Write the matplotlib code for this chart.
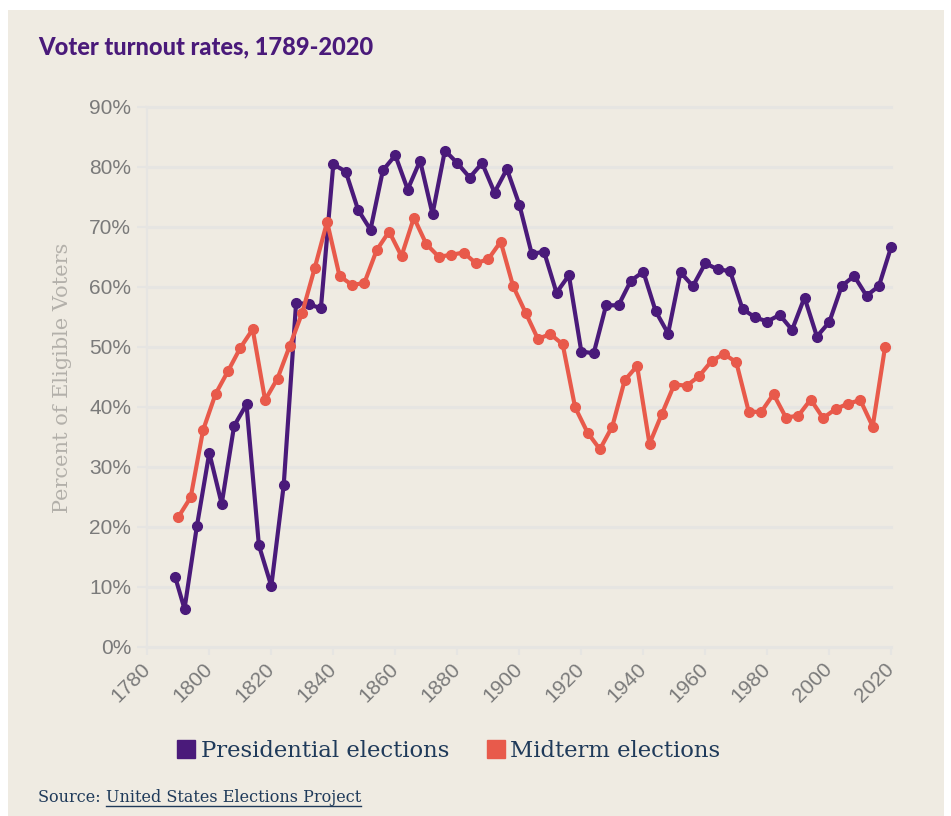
import matplotlib
matplotlib.use("Agg")
import matplotlib.pyplot as plt
from matplotlib.patches import Rectangle
from matplotlib.lines import Line2D

# ---- data ----
pres_years = [1789, 1792, 1796, 1800, 1804, 1808, 1812, 1816, 1820, 1824, 1828, 1832, 1836,
              1840, 1844, 1848, 1852, 1856, 1860, 1864, 1868, 1872, 1876, 1880, 1884, 1888,
              1892, 1896, 1900, 1904, 1908, 1912, 1916, 1920, 1924, 1928, 1932, 1936, 1940,
              1944, 1948, 1952, 1956, 1960, 1964, 1968, 1972, 1976, 1980, 1984, 1988, 1992,
              1996, 2000, 2004, 2008, 2012, 2016, 2020]
pres_vals = [11.6, 6.3, 20.1, 32.3, 23.8, 36.8, 40.4, 16.9, 10.1, 26.9, 57.3, 57.1, 56.4,
             80.4, 79.2, 72.8, 69.5, 79.4, 81.9, 76.2, 81.0, 72.1, 82.7, 80.6, 78.2, 80.6,
             75.7, 79.6, 73.7, 65.5, 65.8, 59.0, 61.9, 49.2, 48.9, 56.9, 56.9, 61.0, 62.5,
             55.9, 52.2, 62.4, 60.1, 63.9, 62.9, 62.6, 56.3, 54.9, 54.2, 55.3, 52.8, 58.2,
             51.7, 54.1, 60.1, 61.8, 58.5, 60.1, 66.7]

mid_years = [1790, 1794, 1798, 1802, 1806, 1810, 1814, 1818, 1822, 1826, 1830, 1834, 1838,
             1842, 1846, 1850, 1854, 1858, 1862, 1866, 1870, 1874, 1878, 1882, 1886, 1890,
             1894, 1898, 1902, 1906, 1910, 1914, 1918, 1922, 1926, 1930, 1934, 1938, 1942,
             1946, 1950, 1954, 1958, 1962, 1966, 1970, 1974, 1978, 1982, 1986, 1990, 1994,
             1998, 2002, 2006, 2010, 2014, 2018]
mid_vals = [21.6, 24.9, 36.1, 42.1, 45.9, 49.8, 52.9, 41.1, 44.7, 50.2, 55.7, 63.1, 70.8,
            61.8, 60.3, 60.6, 66.1, 69.2, 65.1, 71.5, 67.1, 65.0, 65.3, 65.7, 63.9, 64.6,
            67.5, 60.1, 55.7, 51.3, 52.1, 50.4, 39.9, 35.7, 32.9, 36.7, 44.4, 46.8, 33.8,
            38.8, 43.7, 43.5, 45.1, 47.6, 48.8, 47.4, 39.2, 39.1, 42.1, 38.2, 38.5, 41.2,
            38.1, 39.6, 40.5, 41.1, 36.7, 50.0]

x_ticks = [1780, 1800, 1820, 1840, 1860, 1880, 1900, 1920, 1940, 1960, 1980, 2000, 2020]
y_ticks = [0, 10, 20, 30, 40, 50, 60, 70, 80, 90]

title = "Voter turnout rates, 1789-2020"
ylabel = "Percent of Eligible Voters"
series_names = ["Presidential elections", "Midterm elections"]
source_prefix = "Source: "
source_link = "United States Elections Project"

# ---- style ----
PURPLE = "#4a1a7a"
RED = "#e85a4b"
BG = "#efebe2"
GRID = "#e6e5e2"
TICKC = "#7a7a7a"
NAVY = "#1f3a5a"

W, H = 951, 816
fig = plt.figure(figsize=(W / 100, H / 100), dpi=100)
fig.patch.set_facecolor("white")
fig.patches.append(Rectangle((8 / W, 0), (944 - 8) / W, (H - 10) / H,
                             transform=fig.transFigure, facecolor=BG,
                             edgecolor="none", zorder=-10))

left, right = 147.3, 891.3
top, bottom = 106.7, 646.7
ax = fig.add_axes([left / W, 1 - bottom / H, (right - left) / W, (bottom - top) / H])
ax.set_facecolor("none")
ax.set_xlim(1780, 2020)
ax.set_ylim(0, 90)

for s in ["top", "right", "bottom"]:
    ax.spines[s].set_visible(False)
ax.spines["left"].set_color(GRID)
ax.spines["left"].set_linewidth(1.5)

ax.set_yticks(y_ticks)
ax.set_yticklabels([f"{v}%" for v in y_ticks])
ax.set_xticks(x_ticks)
ax.set_xticklabels([str(v) for v in x_ticks])
ax.yaxis.grid(True, color=GRID, lw=2.2, clip_on=False)
ax.set_axisbelow(True)

ax.tick_params(axis="y", length=7.2, width=1.5, color=GRID, pad=4.5,
               labelsize=15, labelcolor=TICKC)
ax.tick_params(axis="x", length=6, width=1.5, color=GRID, pad=8,
               labelsize=15, labelcolor=TICKC)
for lab in ax.get_yticklabels() + ax.get_xticklabels():
    lab.set_fontfamily(["Liberation Sans", "DejaVu Sans"])
for lab in ax.get_xticklabels():
    lab.set_rotation(45)
    lab.set_rotation_mode("anchor")
    lab.set_ha("right")
    lab.set_va("center")

ax.plot(pres_years, pres_vals, color=PURPLE, lw=3.0, marker="o", ms=7,
        solid_joinstyle="round", zorder=3, clip_on=False)
ax.plot(mid_years, mid_vals, color=RED, lw=3.0, marker="o", ms=7,
        solid_joinstyle="round", zorder=4, clip_on=False)

# y-axis title
fig.text(63 / W, 1 - 378 / H, ylabel, fontsize=15, color="#b3b0aa",
         fontfamily="DejaVu Serif", rotation=90, ha="center", va="center")

# title
fig.text(38 / W, 1 - 47 / H, title, fontsize=17, fontweight="black",
         fontfamily=["Lato", "DejaVu Sans"],
         color=PURPLE, ha="left", va="center")

# legend
handles = [Line2D([], [], ls="none", marker="s", ms=13.5, color=PURPLE),
           Line2D([], [], ls="none", marker="s", ms=13.5, color=RED)]
leg = fig.legend(handles, series_names, loc="center", bbox_to_anchor=(448 / W, 1 - 751 / H),
                 ncol=2, frameon=False, handlelength=0.9, handletextpad=0.2,
                 columnspacing=1.6, prop={"family": "DejaVu Serif", "size": 16.4})
for t in leg.get_texts():
    t.set_color(NAVY)

# source
t1 = fig.text(38 / W, 1 - 797 / H, source_prefix, fontsize=11.5, color=NAVY,
              fontfamily="DejaVu Serif", ha="left", va="center")
fig.canvas.draw()
r = fig.canvas.get_renderer()
bb = t1.get_window_extent(r)
t2 = fig.text(bb.x1 / W, 1 - 797 / H, source_link, fontsize=11.5, color=NAVY,
              fontfamily="DejaVu Serif", ha="left", va="center")
bb2 = t2.get_window_extent(r)
uy = (1 - 797 / H) - 9 / H
fig.add_artist(Line2D([bb2.x0 / W, bb2.x1 / W], [uy, uy], transform=fig.transFigure,
                      color=NAVY, lw=1.0))

fig.savefig("out.png", dpi=100, facecolor=fig.get_facecolor())
